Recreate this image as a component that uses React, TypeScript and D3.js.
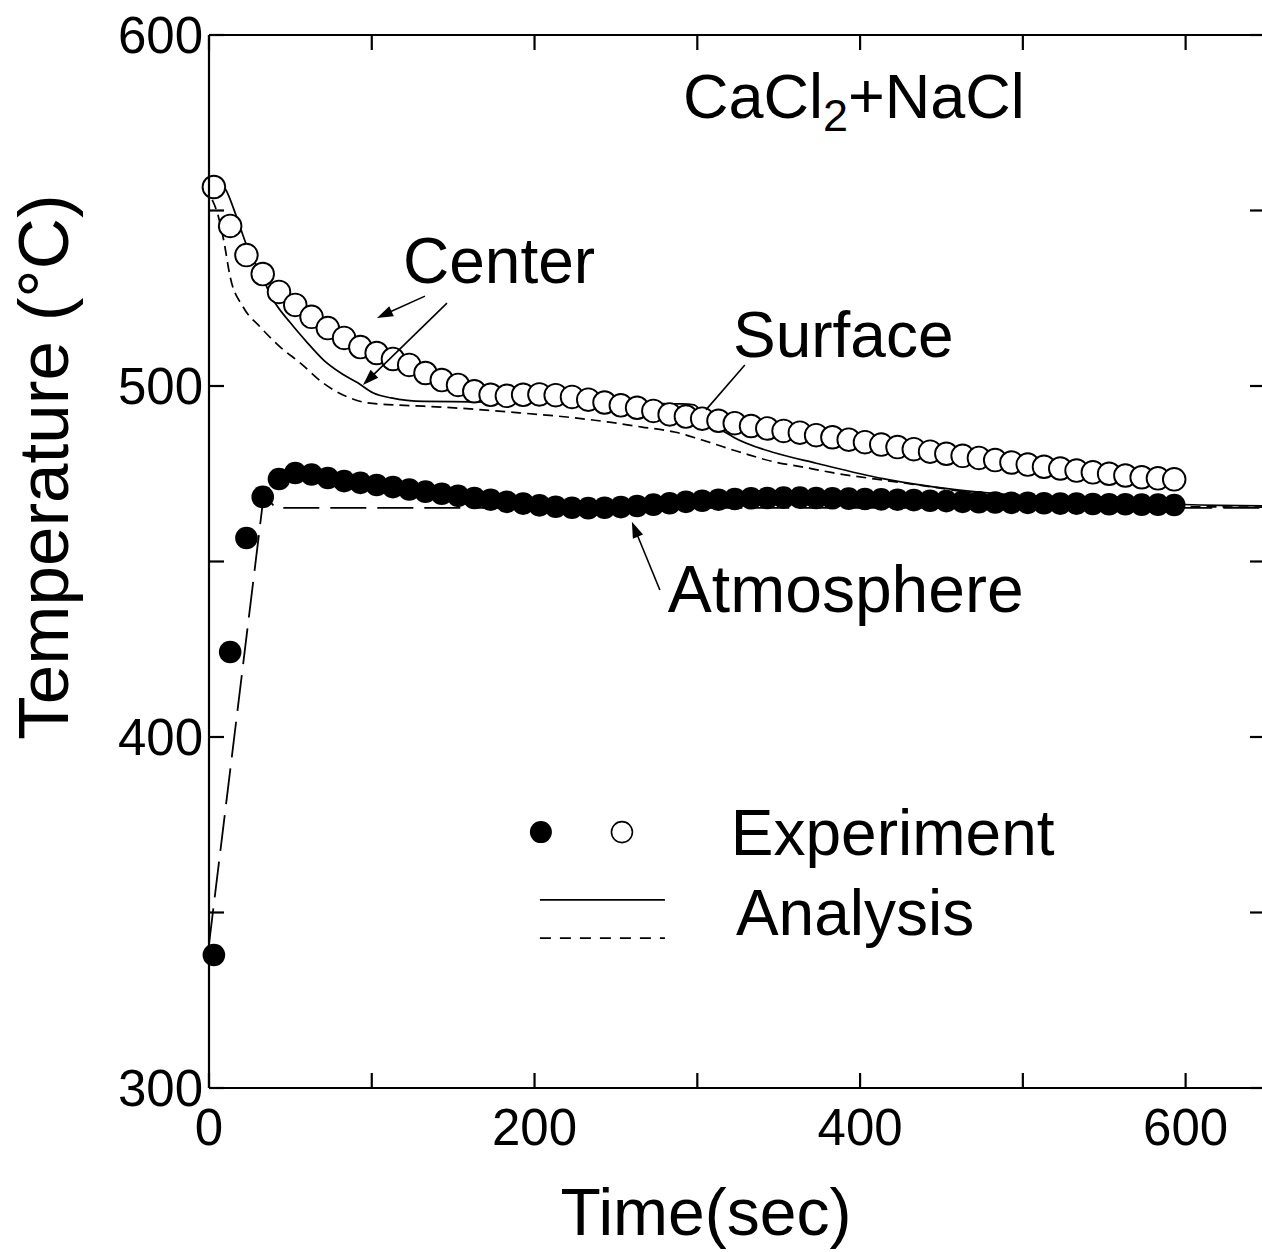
import React from "react";
import * as d3 from "d3";

// Measurement times (s)
const sampleTimes = [
  3, 13, 23, 33, 43, 53, 63, 73, 83, 93,
  103, 113, 123, 133, 143, 153, 163, 173, 183, 193,
  203, 213, 223, 233, 243, 253, 263, 273, 283, 293,
  303, 313, 323, 333, 343, 353, 363, 373, 383, 393,
  403, 413, 423, 433, 443, 453, 463, 473, 483, 493,
  503, 513, 523, 533, 543, 553, 563, 573, 583, 593,
];

// Measured specimen temperature (open circles)
const specimenTemps = [
  556.7, 545.6, 537.3, 531.9, 526.8, 523.1, 519.7, 516.5, 513.7, 511.1,
  509.4, 507.7, 506.0, 503.7, 501.7, 500.3, 498.5, 497.5, 497.2, 497.5,
  497.6, 497.4, 496.9, 496.1, 495.3, 494.5, 493.8, 492.9, 491.9, 491.3,
  490.7, 490.1, 489.4, 488.6, 487.9, 487.2, 486.7, 486.0, 485.4, 484.7,
  484.0, 483.3, 482.6, 482.0, 481.3, 480.7, 480.1, 479.5, 478.9, 478.2,
  477.6, 477.0, 476.5, 475.9, 475.4, 475.0, 474.5, 474.0, 473.7, 473.4,
];

// Measured atmosphere temperature (filled circles)
const atmosphereTemps = [
  337.9, 424.2, 456.7, 468.4, 473.5, 475.2, 474.8, 473.8, 472.9, 472.4,
  471.8, 471.2, 470.5, 469.9, 469.3, 468.7, 468.1, 467.6, 467.0, 466.5,
  466.0, 465.6, 465.3, 465.2, 465.3, 465.5, 465.8, 466.2, 466.6, 467.0,
  467.3, 467.6, 467.8, 468.0, 468.1, 468.2, 468.2, 468.1, 468.0, 467.9,
  467.8, 467.7, 467.6, 467.5, 467.3, 467.2, 467.0, 466.9, 466.8, 466.7,
  466.7, 466.6, 466.5, 466.5, 466.4, 466.3, 466.3, 466.2, 466.2, 466.1,
];

// Calculated centre temperature (solid line)
const centerCalcTime = [
  2, 5, 10, 17, 23.5, 31.5, 39.5, 50, 60.5, 70.4, 81, 91.4, 101, 112, 132,
  160, 200, 250, 290, 298, 305, 322, 348, 373, 414, 456, 496, 538, 580, 620, 650,
];
const centerCalcTemp = [
  558.5, 558.2, 556.2, 548.1, 539.6, 532.2, 524.5, 518.0, 512.3, 507.4, 503.7, 500.9, 498.0, 496.6, 495.6,
  495.5, 495.3, 495.1, 494.9, 494.6, 491.0, 485.5, 480.9, 478.0, 473.6, 470.6, 468.9, 467.8, 466.6, 466.0, 465.8,
];

// Calculated surface temperature (dashed line)
const surfaceCalcTime = [
  2, 5, 9, 13, 21, 31.5, 43.8, 56, 70, 85, 97.5, 120, 143, 184, 225, 246, 266, 286,
  303, 328, 348, 365, 383, 414, 445, 476, 517, 558, 600, 650,
];
const surfaceCalcTemp = [
  553.0, 549.5, 541.6, 531.1, 522.5, 516.8, 511.1, 506.6, 500.9, 496.9, 495.2, 494.5, 494.0, 492.6, 490.9, 489.7, 488.3, 486.9,
  484.6, 480.9, 478.3, 476.9, 475.3, 473.2, 471.2, 469.0, 467.5, 466.7, 465.6, 465.5,
];

// Calculated atmosphere temperature (long-dash line)
const atmCalcTime = [0, 33, 36, 41, 650];
const atmCalcTemp = [341, 466.5, 467.8, 465.3, 465.3];

const xTicks = [0, 100, 200, 300, 400, 500, 600];
const xTickLabels = [0, 200, 400, 600];
const yTicks = [300, 350, 400, 450, 500, 550, 600];
const yTickLabels = [300, 400, 500, 600];

const FONT = "'Liberation Sans', Arial, Helvetica, sans-serif";

export default function App() {
  const W = 1262;
  const H = 1252;
  const x = d3.scaleLinear().domain([0, 650]).range([209, 1267]);
  const y = d3.scaleLinear().domain([300, 600]).range([1088, 35]);
  const [x0, x1] = x.range();
  const [yb, yt] = y.range();

  const smooth = d3
    .line<[number, number]>()
    .x((d) => x(d[0]))
    .y((d) => y(d[1]))
    .curve(d3.curveMonotoneX);
  const straight = d3
    .line<[number, number]>()
    .x((d) => x(d[0]))
    .y((d) => y(d[1]));

  const centerPts = centerCalcTime.map((t, i) => [t, centerCalcTemp[i]] as [number, number]);
  const surfacePts = surfaceCalcTime.map((t, i) => [t, surfaceCalcTemp[i]] as [number, number]);
  const atmPts = atmCalcTime.map((t, i) => [t, atmCalcTemp[i]] as [number, number]);

  const arrow = (fx: number, fy: number, tx: number, ty: number, key: string) => {
    const ax = x(tx), ay = y(ty), bx = x(fx), by = y(fy);
    const ang = Math.atan2(ay - by, ax - bx);
    const L = 16, Wd = 5.5;
    const p1 = [ax - L * Math.cos(ang) + Wd * Math.sin(ang), ay - L * Math.sin(ang) - Wd * Math.cos(ang)];
    const p2 = [ax - L * Math.cos(ang) - Wd * Math.sin(ang), ay - L * Math.sin(ang) + Wd * Math.cos(ang)];
    return (
      <g key={key}>
        <line x1={bx} y1={by} x2={ax - 8 * Math.cos(ang)} y2={ay - 8 * Math.sin(ang)} stroke="#000" strokeWidth={1.6} />
        <path d={`M${ax},${ay}L${p1[0]},${p1[1]}L${p2[0]},${p2[1]}Z`} fill="#000" />
      </g>
    );
  };

  return (
    <svg
      width={W}
      height={H}
      style={{ position: "absolute", left: 0, top: 0, background: "#fff" }}
      fontFamily={FONT}
    >
      <rect x={0} y={0} width={W} height={H} fill="#fff" />

      {/* analysis curves */}
      <path d={straight(atmPts) || ""} fill="none" stroke="#000" strokeWidth={1.8} strokeDasharray="36,11" />
      <path d={smooth(centerPts) || ""} fill="none" stroke="#000" strokeWidth={1.7} />
      <path d={smooth(surfacePts) || ""} fill="none" stroke="#000" strokeWidth={1.7} strokeDasharray="10,6" />

      {/* measured atmosphere */}
      {sampleTimes.map((t, i) => (
        <circle key={`a${i}`} cx={x(t)} cy={y(atmosphereTemps[i])} r={11.3} fill="#000" />
      ))}
      {/* measured specimen */}
      {sampleTimes.map((t, i) => (
        <circle key={`s${i}`} cx={x(t)} cy={y(specimenTemps[i])} r={11.3} fill="#fff" stroke="#000" strokeWidth={1.9} />
      ))}

      {/* frame */}
      <g stroke="#000" strokeWidth={2.2} fill="none">
        <line x1={x0} y1={yt} x2={x0} y2={yb} />
        <line x1={x0} y1={yb} x2={x1} y2={yb} />
        <line x1={x0} y1={yt} x2={x1} y2={yt} />
        <line x1={x1} y1={yt} x2={x1} y2={yb} />
        {xTicks.map((t) => (
          <g key={`xt${t}`}>
            <line x1={x(t)} y1={yb} x2={x(t)} y2={yb - 15} />
            <line x1={x(t)} y1={yt} x2={x(t)} y2={yt + 15} />
          </g>
        ))}
        {yTicks.map((v) => (
          <g key={`yt${v}`}>
            <line x1={x0} y1={y(v)} x2={x0 + 15} y2={y(v)} />
            <line x1={x1} y1={y(v)} x2={x1 - 17} y2={y(v)} />
          </g>
        ))}
      </g>

      {/* tick labels */}
      {xTickLabels.map((t) => (
        <text key={`xl${t}`} x={x(t)} y={yb + 57} fontSize={51} textAnchor="middle" fill="#000">
          {t}
        </text>
      ))}
      {yTickLabels.map((v) => (
        <text key={`yl${v}`} x={x0 - 6} y={y(v) + 18} fontSize={51} textAnchor="end" fill="#000">
          {v}
        </text>
      ))}

      {/* axis titles */}
      <text x={706} y={1235} fontSize={66} textAnchor="middle" fill="#000">
        Time(sec)
      </text>
      <text
        transform={`translate(68, 467) rotate(-90)`}
        fontSize={71}
        textAnchor="middle"
        fill="#000"
      >
        Temperature (°C)
      </text>

      {/* system name */}
      <text x={x(291.2)} y={y(576.4)} fontSize={63} fill="#000">
        CaCl
        <tspan fontSize={45} dy={13}>2</tspan>
        <tspan dy={-13}>+NaCl</tspan>
      </text>

      {/* curve annotations */}
      <text x={x(119.2)} y={y(529.3)} fontSize={64} fill="#000">Center</text>
      {arrow(132.7, 525.6, 103.2, 519.4, "c1")}
      {arrow(146.2, 523.6, 94.6, 500.3, "c2")}

      <text x={x(321.9)} y={y(508.3)} fontSize={64} fill="#000">Surface</text>
      <line x1={x(329.2)} y1={y(506.0)} x2={x(305.3)} y2={y(493.2)} stroke="#000" strokeWidth={1.6} />

      <text x={x(281.9)} y={y(435.6)} fontSize={66} fill="#000">Atmosphere</text>
      {arrow(277, 441.9, 259.8, 461.3, "a1")}

      {/* legend */}
      <circle cx={x(203.9)} cy={y(372.9)} r={11} fill="#000" />
      <circle cx={x(253.7)} cy={y(372.9)} r={10.5} fill="#fff" stroke="#000" strokeWidth={1.6} />
      <text x={x(320.6)} y={y(366.4)} fontSize={64} fill="#000">Experiment</text>
      <line x1={x(203.3)} y1={y(353.6)} x2={x(280.1)} y2={y(353.6)} stroke="#000" strokeWidth={1.7} />
      <line x1={x(203.3)} y1={y(342.7)} x2={x(280.1)} y2={y(342.7)} stroke="#000" strokeWidth={1.7} strokeDasharray="11,9" />
      <text x={x(323.7)} y={y(343.6)} fontSize={64} fill="#000">Analysis</text>
    </svg>
  );
}
